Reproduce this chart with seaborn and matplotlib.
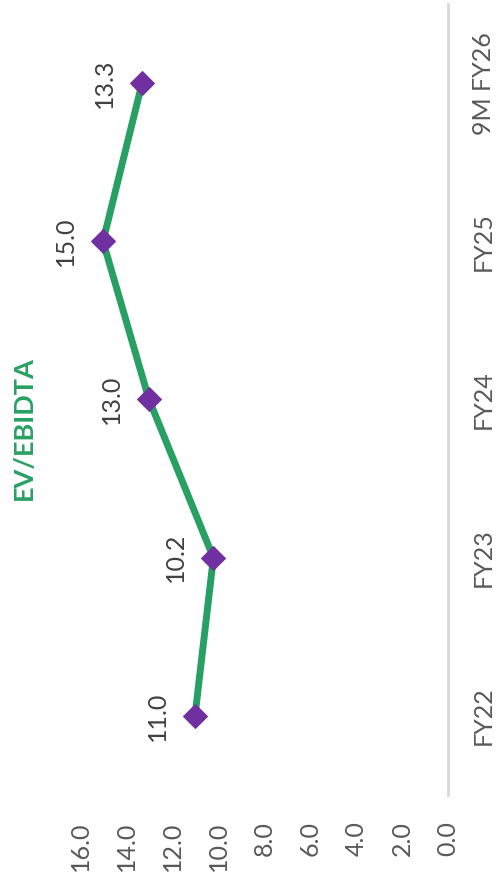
import pandas as pd
import seaborn as sns
import matplotlib.pyplot as plt

# chart values (the original chart is drawn rotated by 90 degrees)
periods = ["FY22", "FY23", "FY24", "FY25", "9M FY26"]
ev_ebitda = [11.0, 10.2, 13.0, 15.0, 13.3]
value_ticks = [0, 2, 4, 6, 8, 10, 12, 14, 16]

df = pd.DataFrame({"period": periods, "pos": range(len(periods)), "value": ev_ebitda})

sns.set_style("white")
plt.rcParams["font.family"] = ["Lato", "DejaVu Sans"]

fig = plt.figure(figsize=(5.01, 8.86), dpi=100)
ax = fig.add_axes([80 / 501, 1 - 795 / 886, (448 - 80) / 501, (795 - 4) / 886])

sns.lineplot(data=df, x="value", y="pos", orient="y", color="#28a064", linewidth=5,
             marker="D", markersize=12, markerfacecolor="#7030a0",
             markeredgecolor="#7030a0", ax=ax)

ax.set_xlim(16, 0)
ax.set_ylim(-0.5, len(periods) - 0.5)

ax.set_xticks(value_ticks)
ax.set_xticklabels([f"{v:.1f}" for v in value_ticks], rotation=90, fontsize=18, color="#595959")
ax.tick_params(axis="x", length=0, pad=19)

ax.yaxis.tick_right()
ax.set_yticks(df["pos"])
ax.set_yticklabels(periods, rotation=90, va="center", fontsize=18, color="#595959")
ax.tick_params(axis="y", length=0, pad=17)

ax.set_xlabel("")
ax.set_ylabel("")
for side in ["top", "bottom", "left"]:
    ax.spines[side].set_visible(False)
ax.spines["right"].set_color("#d9d9d9")
ax.spines["right"].set_linewidth(2)

# data labels
for p, v in zip(df["pos"], df["value"]):
    ax.annotate(f"{v:.1f}", (v, p), xytext=(-38 * 72 / 100, 0), textcoords="offset points",
                rotation=90, ha="center", va="center", fontsize=18, color="#404040")

fig.text(24 / 501, 1 - 428 / 886, "EV/EBIDTA", rotation=90, ha="center", va="center",
         fontsize=19.5, fontweight="bold", color="#28a064")

fig.savefig("out.png", dpi=100)
